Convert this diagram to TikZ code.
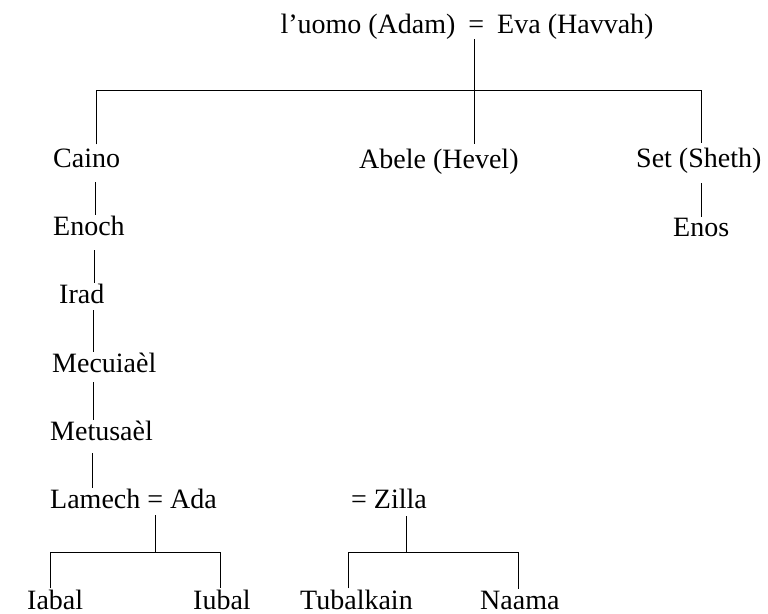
\documentclass[tikz,border=0pt]{standalone}
\usepackage{fontspec}
\setmainfont{Liberation Serif}
\newcommand\famfont{\fontsize{28}{34}\selectfont}
\tikzset{
  person/.style={font=\famfont, inner sep=0pt, anchor=base west},
  tree/.style={line width=0.9pt, black}
}
\begin{document}
\begin{tikzpicture}[x=1pt,y=-1pt]
\useasboundingbox (0,0) rectangle (768,613);
% nodes
\node[person, anchor=base] (adam) at (467,33) {l’uomo (Adam)\hspace{13pt}=\hspace{13pt}Eva (Havvah)};
\node[person] (caino) at (53,167) {Caino};
\node[person] (abele) at (359,168) {Abele (Hevel)};
\node[person] (set) at (636,167) {Set (Sheth)};
\node[person] (enos) at (673,236) {Enos};
\node[person] (enoch) at (53,235) {Enoch};
\node[person] (irad) at (59,303) {Irad};
\node[person] (mecuiael) at (52,372) {Mecuiaèl};
\node[person] (metusael) at (50,440) {Metusaèl};
\node[person] (lamech) at (50,508) {Lamech = Ada};
\node[person] (zilla) at (351,508) {= Zilla};
\node[person] (iabal) at (27,609) {Iabal};
\node[person] (iubal) at (193,609) {Iubal};
\node[person] (tubalkain) at (300,609) {Tubalkain};
\node[person] (naama) at (480,609) {Naama};
% junction coordinates
\coordinate (bl) at (96,90);
\coordinate (bc) at (474,90);
\coordinate (br) at (701,90);
\coordinate (k1) at (95,0);
\coordinate (k2) at (94,0);
\coordinate (k3) at (93,0);
\coordinate (k4) at (93,0);
\coordinate (k5) at (92,0);
\coordinate (lj) at (155,552);
\coordinate (ll) at (50,552);
\coordinate (lr) at (220,552);
\coordinate (zj) at (406,552);
\coordinate (zl) at (348,552);
\coordinate (zr) at (518,552);
% first generation
\draw[tree, shorten >=4pt] (bc |- adam.south) -- (bc |- abele.north);
\draw[tree, shorten <=4pt, shorten >=4pt] (bl |- caino.north) -- (bl) -- (br) -- (br |- set.north);
\draw[tree, shorten <=10pt] (br |- set.south) -- (br |- enos.north);
% line of Caino
\draw[tree, shorten <=15pt] (k1 |- caino.south) -- (k1 |- enoch.north);
\draw[tree, shorten <=15pt] (k2 |- enoch.south) -- (k2 |- irad.north);
\draw[tree, shorten <=7pt] (k3 |- irad.south) -- (k3 |- mecuiael.north);
\draw[tree, shorten <=10pt] (k4 |- mecuiael.south) -- (k4 |- metusael.north);
\draw[tree, shorten <=13pt] (k5 |- metusael.south) -- (k5 |- lamech.north);
% children of Lamech
\draw[tree, shorten <=7pt] (lj |- lamech.south) -- (lj);
\draw[tree, shorten <=1pt, shorten >=1pt] (ll |- iabal.north) -- (ll) -- (lr) -- (lr |- iubal.north);
\draw[tree, shorten <=8pt] (zj |- zilla.south) -- (zj);
\draw[tree, shorten <=1pt, shorten >=1pt] (zl |- tubalkain.north) -- (zl) -- (zr) -- (zr |- naama.north);
\end{tikzpicture}
\end{document}
